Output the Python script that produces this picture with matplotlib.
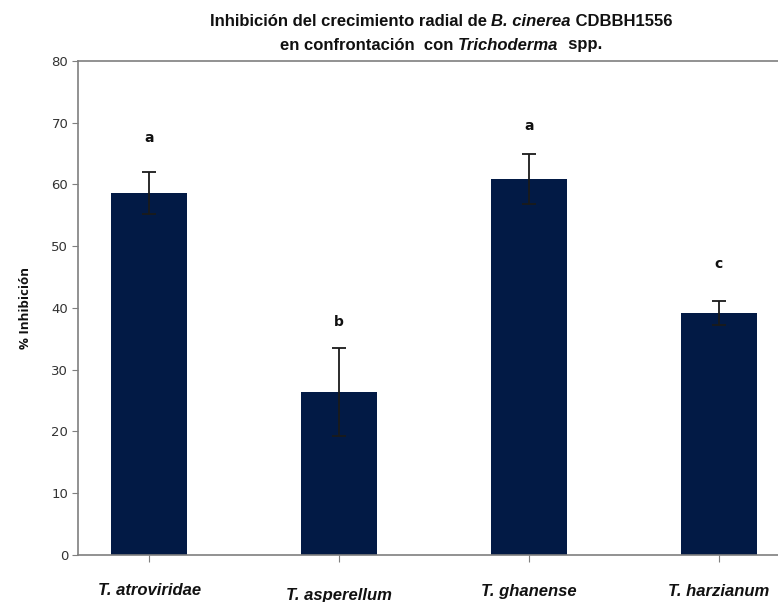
import matplotlib
matplotlib.use("Agg")
import matplotlib.pyplot as plt
from matplotlib import font_manager

# Data: radial growth inhibition of B. cinerea by Trichoderma species
species = ["T. atroviridae", "T. asperellum", "T. ghanense", "T. harzianum"]
inhibition = [58.7, 26.4, 60.9, 39.2]
std_err = [3.4, 7.1, 4.0, 1.9]
groups = ["a", "b", "a", "c"]
group_label_y = [67.5, 37.8, 69.4, 47.1]
y_ticks = [0, 10, 20, 30, 40, 50, 60, 70, 80]

names = {f.name for f in font_manager.fontManager.ttflist}
narrow = "Liberation Sans Narrow" if "Liberation Sans Narrow" in names else "Liberation Sans"

bar_color = "#021A45"
spine_color = "#7f7f7f"

fig = plt.figure(figsize=(7.78, 6.02), dpi=100)
ax = fig.add_axes([0.1003, 0.0781, 0.918, 0.8206])

x = list(range(len(species)))
ax.bar(x, inhibition, width=0.4, color=bar_color, zorder=2)
ax.errorbar(x, inhibition, yerr=std_err, fmt="none", ecolor="#1a1a1a",
            elinewidth=1.3, capsize=5, capthick=1.3, zorder=3)

for xi, gy, g in zip(x, group_label_y, groups):
    ax.text(xi, gy, g, ha="center", va="center", fontsize=10,
            fontweight="bold", family="DejaVu Sans", color="#111111")

ax.set_xlim(-0.374, 3.386)
ax.set_ylim(0, 80)
ax.set_yticks(y_ticks)
ax.set_yticklabels([str(t) for t in y_ticks], fontsize=9.5, color="#333333")
ax.set_xticks(x)
ax.set_xticklabels(species, fontsize=12, fontweight="bold", style="italic",
                   family=narrow, color="#111111")
ax.tick_params(axis="x", pad=15, length=5, color=spine_color, direction="out")
ax.tick_params(axis="y", length=4, color=spine_color, direction="out", pad=3)
for lbl, dy in zip(ax.get_xticklabels(), [0, -5, -1, -1]):
    lbl.set_y(lbl.get_position()[1] + dy / 602 / 0.8206)

for s in ["left", "bottom", "top", "right"]:
    ax.spines[s].set_color(spine_color)
    ax.spines[s].set_linewidth(1.2)

ax.set_ylabel("% Inhibición", fontsize=9.5, fontweight="bold",
              family="Open Sans", color="#111111", labelpad=14)

# Title with italic species names, assembled piece by piece
title_lines = [
    [("Inhibición del crecimiento radial de ", "normal"),
     ("B. cinerea", "italic"), (" CDBBH1556", "normal")],
    [("en confrontación  con ", "normal"), ("Trichoderma", "italic"),
     ("  spp.", "normal")],
]
fig.canvas.draw()
renderer = fig.canvas.get_renderer()
center_x = 441
for line, y_px in zip(title_lines, [22, 45]):
    texts = []
    for s, st in line:
        t = fig.text(0, 0, s, fontsize=12, fontweight="bold", style=st,
                     family=narrow, color="#111111", va="center")
        texts.append(t)
    widths = [t.get_window_extent(renderer).width for t in texts]
    total = sum(widths)
    cur = center_x - total / 2
    for t, w in zip(texts, widths):
        t.set_position((cur / 778, 1 - y_px / 602))
        cur += w

fig.savefig("out.png", dpi=100)
